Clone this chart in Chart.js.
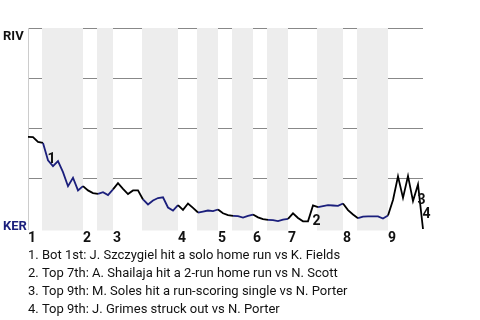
<!DOCTYPE html>
<html>
<head>
<meta charset="utf-8">
<script src="https://cdn.jsdelivr.net/npm/chart.js@4"></script>
<style>
  html, body { margin: 0; padding: 0; background: #fff; }
  canvas { display: block; }
</style>
</head>
<body>
<canvas id="chart" width="480" height="320"></canvas>
<script>
// win probability for RIV (1 = RIV wins, 0 = KER wins), one value per plate appearance
const winProb = [
  0.458, 0.457, 0.433, 0.428,
  0.342, 0.313, 0.338, 0.283, 0.213, 0.255, 0.192, 0.213,
  0.192, 0.179, 0.175,
  0.183, 0.169, 0.197,
  0.228, 0.200, 0.174, 0.192, 0.192, 0.147,
  0.122, 0.142, 0.154, 0.158, 0.107, 0.092, 0.119,
  0.095, 0.127, 0.105, 0.082,
  0.087, 0.092, 0.089, 0.097,
  0.078, 0.069, 0.065,
  0.064, 0.057, 0.065, 0.072,
  0.058, 0.049, 0.045,
  0.044, 0.039, 0.047, 0.050,
  0.078, 0.055, 0.038, 0.038, 0.117, 0.109,
  0.114, 0.119, 0.117, 0.115, 0.127,
  0.094, 0.072, 0.054,
  0.062, 0.063, 0.063, 0.063, 0.052, 0.067,
  0.144, 0.262, 0.155, 0.264, 0.139, 0.222, 0.0
];
// index of the last play of each half inning (top 1, bot 1, top 2, ...)
const halfInningEnds = [3, 11, 14, 17, 23, 30, 34, 38, 41, 45, 48, 52, 58, 63, 66, 72, 79];
const innings = ['1', '2', '3', '4', '5', '6', '7', '8', '9'];

const eventPlays = [4, 57, 78, 79];
const eventTexts = [
  '1. Bot 1st: J. Szczygiel hit a solo home run vs K. Fields',
  '2. Top 7th: A. Shailaja hit a 2-run home run vs N. Scott',
  '3. Top 9th: M. Soles hit a run-scoring single vs N. Porter',
  '4. Top 9th: J. Grimes struck out vs N. Porter'
];
const awayTeam = 'RIV';
const homeTeam = 'KER';

const NAVY = '#1b1f7c';
const FONT = 'Roboto, "Liberation Sans", sans-serif';

function halfIndex(play) {
  for (let k = 0; k < halfInningEnds.length; k++) {
    if (play <= halfInningEnds[k]) return k;
  }
  return halfInningEnds.length - 1;
}

const gamePlugin = {
  id: 'gameDecor',
  beforeDatasetsDraw(chart) {
    const ctx = chart.ctx;
    const x = chart.scales.x;
    const area = chart.chartArea;
    ctx.save();
    ctx.fillStyle = '#ededed';
    for (let k = 1; k < halfInningEnds.length; k += 2) {
      const x0 = x.getPixelForValue(halfInningEnds[k - 1]) - 1;
      const x1 = x.getPixelForValue(halfInningEnds[k]);
      ctx.fillRect(x0, area.top, x1 - x0, area.bottom - area.top + 1.5);
    }
    ctx.restore();
  },
  afterDatasetsDraw(chart) {
    const ctx = chart.ctx;
    const x = chart.scales.x;
    const y = chart.scales.y;
    ctx.save();
    // event numbers next to the plays
    ctx.fillStyle = '#111';
    ctx.font = 'bold 14px ' + FONT;
    ctx.textAlign = 'left';
    ctx.textBaseline = 'alphabetic';
    eventPlays.forEach((p, i) => {
      const mx = (x.getPixelForValue(p - 1) + x.getPixelForValue(p)) / 2;
      const my = (y.getPixelForValue(winProb[p - 1]) + y.getPixelForValue(winProb[p])) / 2;
      ctx.fillText(String(i + 1), mx + 2, my + 11.5);
    });
    ctx.restore();
  },
  afterDraw(chart) {
    const ctx = chart.ctx;
    const x = chart.scales.x;
    const area = chart.chartArea;
    ctx.save();
    ctx.textAlign = 'left';
    ctx.textBaseline = 'alphabetic';
    // team labels
    ctx.font = 'bold 13px ' + FONT;
    ctx.fillStyle = '#111';
    ctx.fillText(awayTeam, 3, 39.5);
    ctx.fillStyle = NAVY;
    ctx.fillText(homeTeam, 3, 229.5);
    // inning numbers at the start of each inning
    ctx.font = 'bold 14px ' + FONT;
    ctx.fillStyle = '#111';
    innings.forEach((lab, i) => {
      const start = i === 0 ? 0 : halfInningEnds[2 * i - 1];
      ctx.fillText(lab, x.getPixelForValue(start), 241.5);
    });
    // play descriptions
    ctx.font = '13px ' + FONT;
    ctx.fillStyle = '#111';
    eventTexts.forEach((t, i) => {
      ctx.fillText(t, area.left, 258.5 + i * 18);
    });
    ctx.restore();
  }
};

const points = winProb.map((v, i) => ({ x: i, y: v }));

new Chart(document.getElementById('chart').getContext('2d'), {
  type: 'line',
  data: {
    datasets: [{
      data: points,
      borderColor: '#000',
      borderWidth: 1.8,
      pointRadius: 0,
      tension: 0,
      fill: false,
      clip: 4,
      segment: {
        borderColor: c => (halfIndex(c.p1DataIndex) % 2 === 1 ? NAVY : '#000')
      }
    }]
  },
  options: {
    responsive: false,
    animation: false,
    layout: { padding: { left: 28, right: 57, top: 28, bottom: 91 } },
    plugins: {
      legend: { display: false },
      tooltip: { enabled: false }
    },
    scales: {
      x: {
        type: 'linear',
        min: 0,
        max: winProb.length - 1,
        display: false
      },
      y: {
        min: 0,
        max: 1,
        ticks: { display: false, stepSize: 0.25 },
        grid: {
          drawTicks: false,
          color: c => (c.tick.value === 0 ? 'rgba(0,0,0,0)' : '#888'),
          lineWidth: 1
        },
        border: { display: true, color: '#ccc', width: 1 }
      }
    }
  },
  plugins: [gamePlugin]
});
</script>
</body>
</html>
